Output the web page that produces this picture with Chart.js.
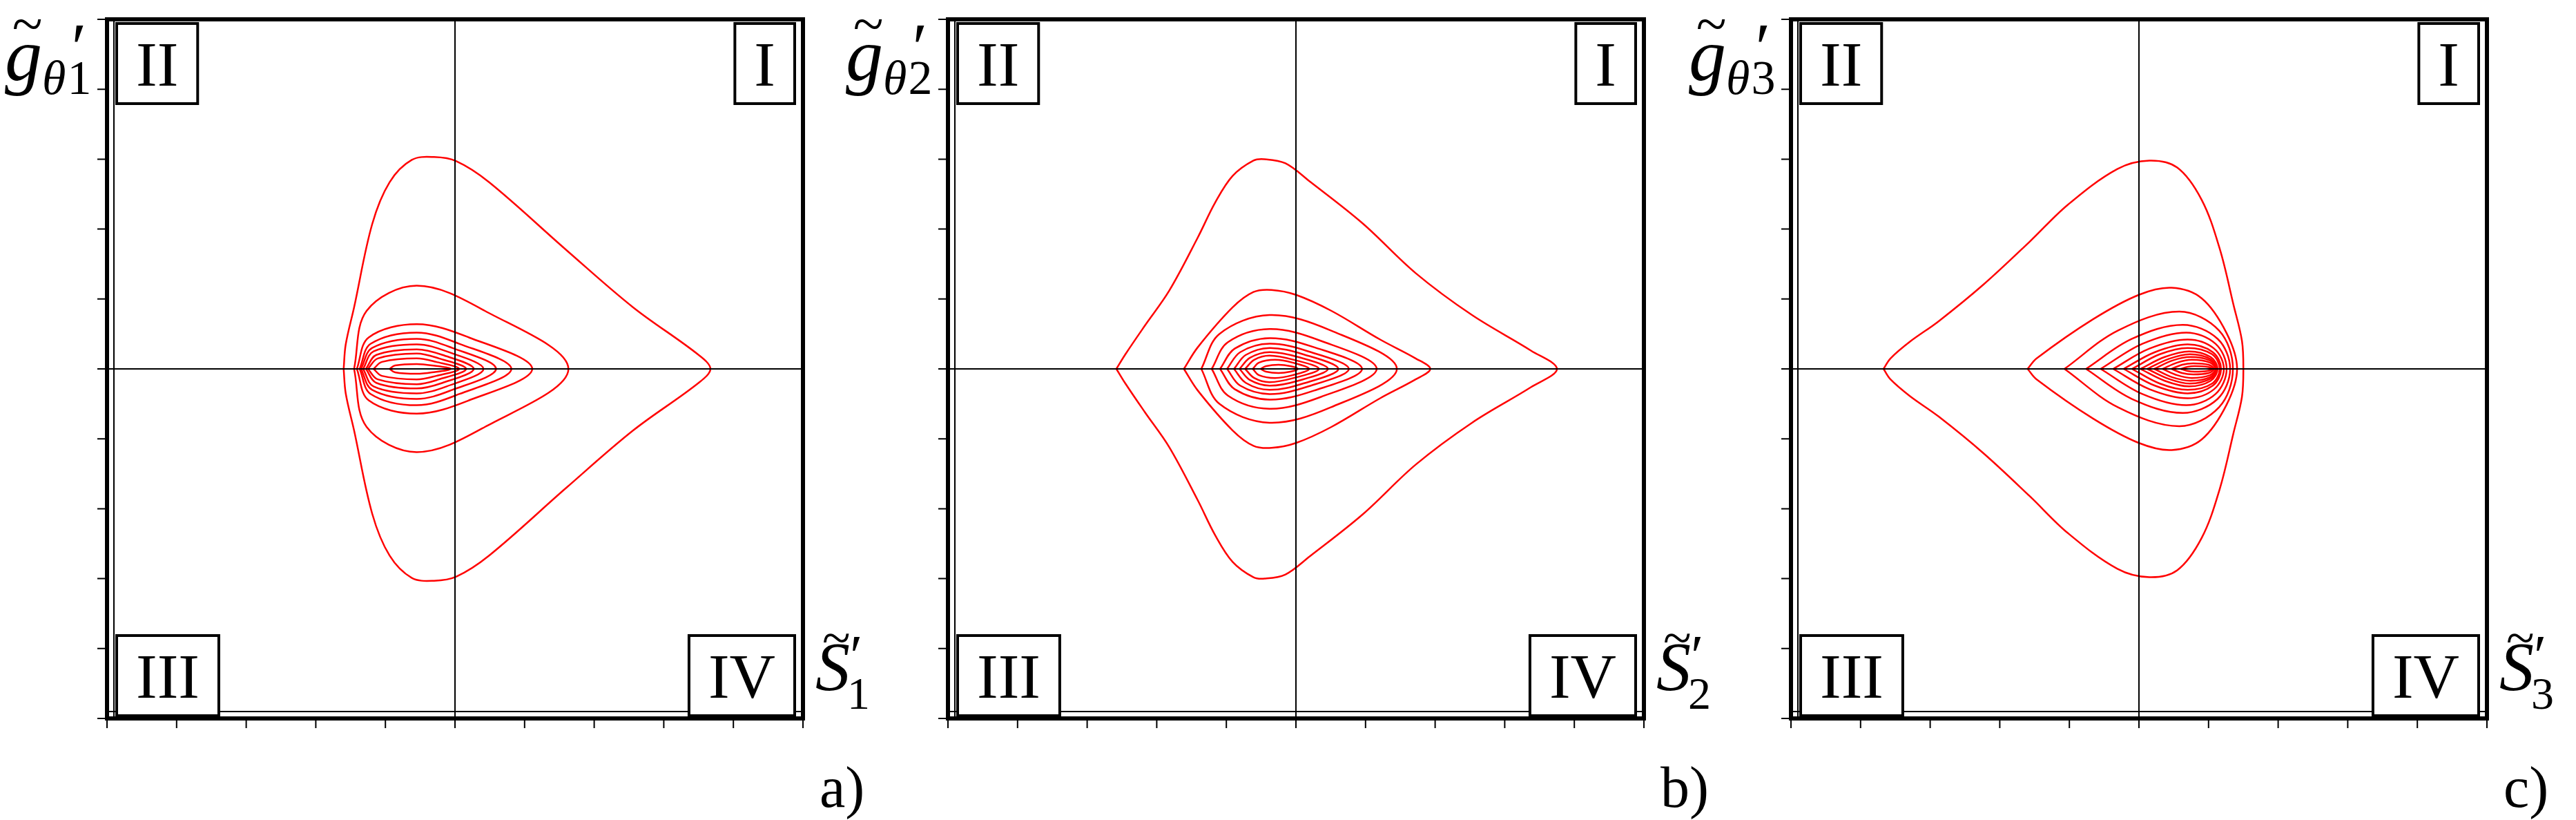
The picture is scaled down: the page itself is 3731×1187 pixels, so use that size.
<!DOCTYPE html>
<html>
<head>
<meta charset="utf-8">
<script src="https://cdn.jsdelivr.net/npm/chart.js@4"></script>
<style>
  body { margin: 0; background: #fff; overflow: hidden; }
  .panel { position: absolute; top: 0; width: 1300px; height: 1187px; }
</style>
</head>
<body>
<div class="panel" style="left:0"><canvas id="ca"></canvas></div>
<div class="panel" style="left:1218px"><canvas id="cb"></canvas></div>
<div class="panel" style="left:2439px"><canvas id="cc"></canvas></div>
<script>
// tick positions on both axes
var ticks = [-5, -4, -3, -2, -1, 0, 1, 2, 3, 4, 5];
var quadrants = ['I', 'II', 'III', 'IV'];

// upper halves of the contours (lower halves are mirror images)
var contoursA = [
  [[-1.6,0],[-1.57,0.35],[-1.45,0.88],[-1.19,2.07],[-0.94,2.67],[-0.62,2.99],[-0.3,3.03],[0.02,2.97],[0.49,2.67],[1.6,1.7],[2.56,0.88],[3.5,0.2],[3.67,0]],
  [[-1.45,0],[-1.27,0.83],[-0.55,1.19],[0.43,0.83],[1.63,0]],
  [[-1.41,0],[-1.24,0.45],[-0.55,0.64],[0.2,0.45],[1.11,0]],
  [[-1.37,0],[-1.21,0.36],[-0.55,0.52],[0.06,0.36],[0.81,0]],
  [[-1.35,0],[-1.19,0.3],[-0.55,0.43],[-0.04,0.3],[0.59,0]],
  [[-1.32,0],[-1.17,0.25],[-0.55,0.35],[-0.12,0.25],[0.41,0]],
  [[-1.28,0],[-1.13,0.2],[-0.55,0.28],[-0.18,0.2],[0.27,0]],
  [[-1.25,0],[-1.11,0.15],[-0.55,0.22],[-0.23,0.15],[0.16,0]],
  [[-1.17,0],[-1.05,0.1],[-0.55,0.15],[-0.27,0.1],[0.06,0]],
  [[-0.94,0],[-0.86,0.05],[-0.55,0.07],[-0.33,0.05],[-0.06,0]]
];
var contoursB = [
  [[-2.58,0],[-2.45,0.21],[-2.17,0.62],[-1.82,1.12],[-1.41,1.88],[-1.16,2.38],[-0.91,2.76],[-0.61,2.98],[-0.45,3.0],[-0.15,2.94],[0.2,2.68],[0.96,2.08],[1.72,1.37],[2.53,0.77],[3.38,0.26],[3.75,0]],
  [[-1.61,0],[-1.41,0.31],[-0.91,0.88],[-0.61,1.1],[-0.35,1.13],[0,1.06],[0.51,0.83],[1.21,0.42],[1.72,0.15],[1.93,0]],
  [[-1.36,0],[-1.1,0.5],[-0.38,0.77],[0.5,0.55],[1.45,0]],
  [[-1.21,0],[-0.98,0.38],[-0.38,0.57],[0.36,0.4],[1.16,0]],
  [[-1.09,0],[-0.88,0.29],[-0.38,0.44],[0.26,0.31],[0.95,0]],
  [[-0.99,0],[-0.8,0.24],[-0.38,0.36],[0.18,0.25],[0.76,0]],
  [[-0.89,0],[-0.72,0.2],[-0.38,0.3],[0.1,0.21],[0.61,0]],
  [[-0.81,0],[-0.66,0.16],[-0.38,0.24],[0.03,0.17],[0.46,0]],
  [[-0.73,0],[-0.6,0.13],[-0.38,0.19],[-0.03,0.13],[0.33,0]],
  [[-0.62,0],[-0.53,0.09],[-0.3,0.13],[-0.05,0.09],[0.19,0]],
  [[-0.51,0],[-0.43,0.04],[-0.25,0.06],[-0.08,0.04],[0.03,0]]
];
var contoursC = [
  [[-3.67,0],[-3.57,0.15],[-3.29,0.39],[-2.88,0.68],[-2.23,1.21],[-1.57,1.82],[-1.02,2.35],[-0.31,2.86],[0.15,2.98],[0.55,2.88],[0.9,2.42],[1.16,1.72],[1.36,0.91],[1.48,0.4],[1.5,0]],
  [[-1.6,0],[-1.47,0.15],[-0.66,0.71],[0,1.06],[0.47,1.16],[0.9,1.01],[1.26,0.51],[1.41,0]],
  [[-1.07,0],[-0.3,0.55],[0.58,0.82],[1.15,0.55],[1.35,0]],
  [[-0.76,0],[-0.1,0.43],[0.63,0.63],[1.13,0.43],[1.31,0]],
  [[-0.55,0],[0.05,0.36],[0.68,0.52],[1.1,0.36],[1.26,0]],
  [[-0.37,0],[0.15,0.29],[0.7,0.42],[1.08,0.29],[1.22,0]],
  [[-0.22,0],[0.23,0.24],[0.7,0.35],[1.06,0.24],[1.18,0]],
  [[-0.1,0],[0.3,0.21],[0.7,0.3],[1.05,0.21],[1.16,0]],
  [[0.02,0],[0.37,0.17],[0.72,0.25],[1.03,0.17],[1.13,0]],
  [[0.12,0],[0.42,0.14],[0.73,0.21],[1.03,0.14],[1.12,0]],
  [[0.22,0],[0.48,0.12],[0.74,0.17],[1.02,0.12],[1.11,0]],
  [[0.34,0],[0.55,0.09],[0.76,0.13],[1.02,0.09],[1.1,0]],
  [[0.47,0],[0.62,0.06],[0.78,0.08],[1.0,0.06],[1.08,0]],
  [[0.6,0],[0.7,0.03],[0.8,0.04],[0.98,0.03],[1.06,0]]
];

var SERIF = '"Liberation Serif", "DejaVu Serif", serif';

function closeCurve(upper) {
  var pts = upper.map(function(p) { return {x: p[0], y: p[1]}; });
  for (var i = upper.length - 2; i >= 0; i--) {
    pts.push({x: upper[i][0], y: -upper[i][1]});
  }
  return pts;
}

function tildeLetter(ctx, letter, x, y, size) {
  ctx.font = 'italic ' + size + 'px ' + SERIF;
  ctx.fillText(letter, x, y);
  var w = ctx.measureText(letter).width;
  ctx.font = (size * 0.75) + 'px ' + SERIF;
  ctx.fillText('~', x + w * 0.2, y - size * 0.5);
  return w;
}

var decor = {
  id: 'decor',
  afterDatasetsDraw: function(chart, args, opts) {
    var ctx = chart.ctx, a = chart.chartArea;
    var xs = chart.scales.x, ys = chart.scales.y;
    ctx.save();
    ctx.strokeStyle = '#000';
    // zero lines
    ctx.lineWidth = 2;
    ctx.beginPath();
    ctx.moveTo(xs.getPixelForValue(0), a.top); ctx.lineTo(xs.getPixelForValue(0), a.bottom);
    ctx.moveTo(a.left, ys.getPixelForValue(0)); ctx.lineTo(a.right, ys.getPixelForValue(0));
    ctx.stroke();
    // frame (double line on left and bottom)
    ctx.lineWidth = 6;
    ctx.strokeRect(a.left, a.top, a.right - a.left, a.bottom - a.top);
    ctx.lineWidth = 2;
    ctx.beginPath();
    ctx.moveTo(a.left + 10, a.top); ctx.lineTo(a.left + 10, a.bottom);
    ctx.moveTo(a.left, a.bottom - 10); ctx.lineTo(a.right, a.bottom - 10);
    ctx.stroke();
    // ticks
    ctx.beginPath();
    ticks.forEach(function(t) {
      var px = xs.getPixelForValue(t), py = ys.getPixelForValue(t);
      ctx.moveTo(px, a.bottom); ctx.lineTo(px, a.bottom + 14);
      ctx.moveTo(a.left, py); ctx.lineTo(a.left - 14, py);
    });
    ctx.stroke();
    // quadrant boxes
    ctx.font = '92px ' + SERIF;
    ctx.textBaseline = 'alphabetic';
    ctx.lineWidth = 4;
    var h = 116;
    quadrants.forEach(function(q) {
      var w = ctx.measureText(q).width + 56;
      var left = (q === 'I' || q === 'IV') ? a.right - 12 - w : a.left + 14;
      var top = (q === 'I' || q === 'II') ? a.top + 6 : a.bottom - 4 - h;
      ctx.fillStyle = '#fff';
      ctx.fillRect(left, top, w, h);
      ctx.strokeRect(left, top, w, h);
      ctx.fillStyle = '#000';
      ctx.textAlign = 'center';
      ctx.fillText(q, left + w / 2, top + h / 2 + 32);
    });
    ctx.textAlign = 'left';
    // y label
    var yx = a.left - 148, yy = a.top + 88;
    var w = tildeLetter(ctx, 'g', yx, yy, 108);
    ctx.font = 'italic 70px ' + SERIF;
    ctx.fillText('\u03b8', yx + w, yy + 20);
    var w2 = ctx.measureText('\u03b8').width;
    ctx.font = '70px ' + SERIF;
    ctx.fillText(opts.n, yx + w + w2 + 2, yy + 20);
    ctx.font = '100px ' + SERIF;
    ctx.fillText('\u2032', yx + w + w2 + 8, yy - 14);
    // x label
    var xx = a.right + 18, xy = a.bottom - 42;
    var ws = tildeLetter(ctx, 'S', xx, xy, 100);
    ctx.font = '84px ' + SERIF;
    ctx.fillText('\u2032', xx + ws, xy - 20);
    ctx.font = '66px ' + SERIF;
    ctx.fillText(opts.n, xx + ws - 4, xy + 28);
    // panel letter
    ctx.font = '84px ' + SERIF;
    ctx.fillText(opts.letter, a.right + 24, a.bottom + 128);
    ctx.restore();
  }
};

function makeChart(id, contours, n, letter) {
  new Chart(document.getElementById(id), {
    type: 'scatter',
    data: {
      datasets: contours.map(function(c) {
        return {
          data: closeCurve(c),
          showLine: true,
          borderColor: '#ff0000',
          borderWidth: 2.5,
          pointRadius: 0,
          tension: 0.35
        };
      })
    },
    options: {
      responsive: false,
      animation: false,
      layout: { padding: { left: 155, right: 1300 - 1163, top: 28, bottom: 147 } },
      plugins: { legend: { display: false }, tooltip: { enabled: false }, decor: { n: n, letter: letter } },
      scales: {
        x: { type: 'linear', min: -5, max: 5, display: false },
        y: { type: 'linear', min: -5, max: 5, display: false }
      }
    },
    plugins: [decor]
  });
}

['ca', 'cb', 'cc'].forEach(function(id) {
  var c = document.getElementById(id);
  c.width = 1300; c.height = 1187;
});
makeChart('ca', contoursA, '1', 'a)');
makeChart('cb', contoursB, '2', 'b)');
makeChart('cc', contoursC, '3', 'c)');
</script>
</body>
</html>
